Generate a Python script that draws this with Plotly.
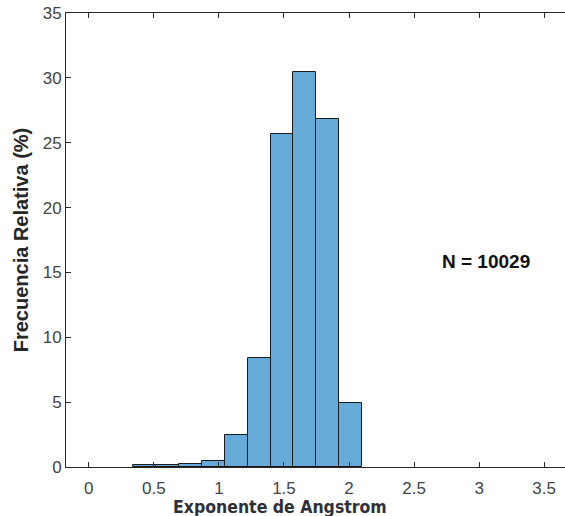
import plotly.graph_objects as go

bin_edges = [0.342, 0.518, 0.694, 0.869, 1.045, 1.221, 1.397, 1.573, 1.748, 1.924, 2.100]
freq_pct = [0.12, 0.12, 0.25, 0.50, 2.47, 8.42, 25.70, 30.45, 26.80, 4.92]
x_ticks = [0, 0.5, 1, 1.5, 2, 2.5, 3, 3.5]
x_tick_text = ["0", "0.5", "1", "1.5", "2", "2.5", "3", "3.5"]
y_ticks = [0, 5, 10, 15, 20, 25, 30, 35]
n_label = "N = 10029"
x_title = "Exponente de Angstrom"
y_title = "Frecuencia Relativa (%)"

centers = [(a + b) / 2 for a, b in zip(bin_edges[:-1], bin_edges[1:])]
widths = [b - a for a, b in zip(bin_edges[:-1], bin_edges[1:])]

fig = go.Figure()
fig.add_trace(go.Bar(
    x=centers, y=freq_pct, width=widths,
    marker=dict(color="rgb(102,170,215)", line=dict(color="#1a1a1a", width=1)),
    showlegend=False,
))

axis_col = "#262626"
fig.update_layout(
    width=565, height=516,
    margin=dict(l=66, r=0, t=13, b=49),
    paper_bgcolor="white", plot_bgcolor="white",
    font=dict(family="Liberation Sans, Arial", color=axis_col),
    bargap=0,
    xaxis=dict(
        range=[-0.175, 3.66], tickvals=x_ticks, ticktext=x_tick_text,
        ticks="inside", ticklen=5, tickcolor=axis_col, tickwidth=1,
        showline=True, linecolor=axis_col, linewidth=1, mirror="ticks",
        showgrid=False, zeroline=False, ticklabelstandoff=6,
        tickfont=dict(size=17, color="#444444"),
    ),
    yaxis=dict(
        range=[0, 35], tickvals=y_ticks,
        ticks="inside", ticklen=5, tickcolor=axis_col, tickwidth=1,
        showline=True, linecolor=axis_col, linewidth=1, mirror=False,
        showgrid=False, zeroline=False,
        tickfont=dict(size=17, color="#444444"),
        title=dict(text="<b>" + y_title + "</b>", standoff=8,
                   font=dict(size=20, color=axis_col)),
    ),
    annotations=[
        dict(x=2.70, y=15.85, xref="x", yref="y", text="<b>" + n_label + "</b>",
             showarrow=False, xanchor="left", yanchor="middle",
             font=dict(size=19, color="#111111")),
        dict(x=(279.5 - 66) / 499, y=-(507 - 467) / 454, xref="paper", yref="paper",
             text="<b>" + x_title + "</b>", showarrow=False,
             xanchor="center", yanchor="middle",
             font=dict(family="DejaVu Sans Condensed, DejaVu Sans", size=17.5, color="#2d3038")),
    ],
)

fig.write_html("out.html")
